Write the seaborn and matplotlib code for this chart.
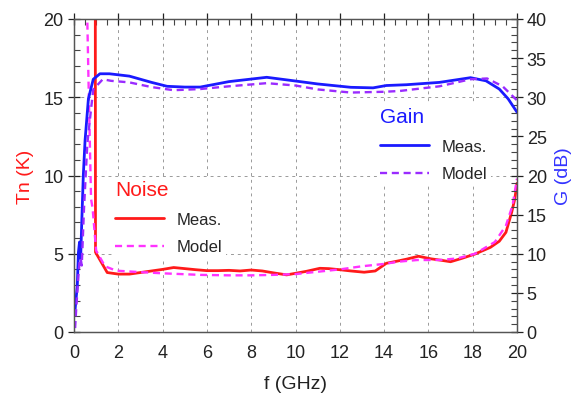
import numpy as np
import matplotlib
matplotlib.use("Agg")
import matplotlib.pyplot as plt
import seaborn as sns
from matplotlib.ticker import MultipleLocator
from matplotlib.lines import Line2D

# noise temperature, measured (K)
noise_meas_f = [0.85, 0.96, 0.97, 1.5, 2.0, 2.5, 3.0, 3.5, 4.0, 4.5, 5.0, 5.5, 6.0, 6.5, 7.0,
                7.5, 8.0, 8.5, 9.0, 9.6, 10.0, 10.5, 11.1, 11.5, 12.0, 12.5, 13.1, 13.6, 14.1,
                14.7, 15.0, 15.55, 16.1, 16.5, 17.0, 17.5, 18.1, 18.8, 19.2, 19.5, 19.76, 19.9, 20.0]
noise_meas = [30, 25, 5.1, 3.8, 3.7, 3.7, 3.8, 3.9, 4.0, 4.12, 4.05, 3.98, 3.92, 3.92, 3.94,
              3.9, 3.96, 3.9, 3.78, 3.65, 3.75, 3.88, 4.07, 4.05, 3.98, 3.9, 3.82, 3.9, 4.39,
              4.56, 4.65, 4.84, 4.68, 4.6, 4.49, 4.7, 4.98, 5.41, 5.8, 6.37, 7.65, 8.5, 9.5]

# noise temperature, model (K)
noise_model_f = [0.55, 0.6, 0.65, 0.77, 0.84, 1.0, 1.2, 1.4, 1.9, 2.7, 4.0, 5.7, 7.0, 8.0, 9.0,
                 10.0, 11.0, 12.0, 13.0, 14.0, 14.7, 15.5, 16.5, 17.3, 18.1, 19.0, 19.5, 19.8, 20.0]
noise_model = [30, 20, 16.4, 8.5, 7.9, 5.2, 4.7, 4.2, 3.92, 3.85, 3.75, 3.65, 3.62, 3.62, 3.65,
               3.7, 3.85, 4.0, 4.2, 4.35, 4.5, 4.6, 4.6, 4.7, 5.0, 5.75, 6.8, 8.1, 9.8]

# gain, measured (dB)
gain_meas_f = [0.05, 0.15, 0.2, 0.25, 0.3, 0.35, 0.42, 0.5, 0.65, 0.87, 1.17, 1.6, 2.5, 3.5, 4.2,
               5.0, 5.7, 7.0, 8.7, 10.2, 11.0, 12.5, 13.5, 14.1, 15.0, 16.5, 17.9, 18.6, 19.2,
               19.6, 20.0]
gain_meas = [2.9, 6.0, 10.2, 11.5, 9.4, 14.0, 20.0, 24.5, 29.8, 32.3, 33.0, 33.0, 32.7, 31.9, 31.4,
             31.3, 31.3, 32.0, 32.55, 32.0, 31.7, 31.27, 31.2, 31.5, 31.6, 31.9, 32.5, 32.1, 31.05,
             29.8, 28.1]

# gain, model (dB)
gain_model_f = [0.05, 0.1, 0.2, 0.25, 0.3, 0.35, 0.45, 0.6, 0.77, 0.87, 1.3, 1.67, 2.5, 3.5, 4.5,
                5.7, 7.0, 8.7, 10.0, 11.0, 12.5, 14.0, 14.7, 16.5, 17.9, 18.65, 19.35, 20.0]
gain_model = [0.5, 3.0, 7.2, 9.0, 9.4, 8.5, 15.7, 24.0, 28.5, 31.0, 32.3, 32.1, 31.9, 31.3, 30.9,
              31.05, 31.4, 31.8, 31.5, 31.0, 30.6, 30.7, 30.8, 31.4, 32.3, 32.4, 31.4, 29.6]

RED = "#ff1a1a"
MAGENTA = "#ff33ff"
BLUE = "#1a1aff"
PURPLE = "#9a2bff"

sns.set_style("white")
plt.rcParams['font.family'] = ['Liberation Sans', 'DejaVu Sans']

fig, ax = plt.subplots(figsize=(5.78, 4.02), dpi=100)
fig.subplots_adjust(left=74/578, right=517/578, top=1-20/402, bottom=1-333/402)
ax2 = ax.twinx()

sns.lineplot(x=noise_meas_f, y=noise_meas, ax=ax, color=RED, lw=2.0, sort=False, estimator=None)
sns.lineplot(x=noise_model_f, y=noise_model, ax=ax, color=MAGENTA, lw=1.7, sort=False,
             estimator=None, linestyle=(0, (3, 2)))
sns.lineplot(x=gain_meas_f, y=gain_meas, ax=ax2, color=BLUE, lw=2.0, sort=False, estimator=None)
sns.lineplot(x=gain_model_f, y=gain_model, ax=ax2, color=PURPLE, lw=1.7, sort=False,
             estimator=None, linestyle=(0, (3, 2)))

ax.set_xlim(0, 20)
ax.set_ylim(0, 20)
ax2.set_ylim(0, 40)

# grid
for xv in range(2, 20, 2):
    ax.axvline(xv, color="#9a9a9a", lw=0.7, ls=(0, (3, 4)), zorder=0)
for yv in (5, 10, 15):
    ax.axhline(yv, color="#9a9a9a", lw=0.7, ls=(0, (3, 4)), zorder=0)

ax.xaxis.set_major_locator(MultipleLocator(2))
ax.xaxis.set_minor_locator(MultipleLocator(0.5))
ax.yaxis.set_major_locator(MultipleLocator(5))
ax.yaxis.set_minor_locator(MultipleLocator(1))
ax2.yaxis.set_major_locator(MultipleLocator(5))
ax2.yaxis.set_minor_locator(MultipleLocator(1))

ax.tick_params(axis="both", which="major", direction="inout", length=8, width=0.9,
               labelsize=13, colors="#222222", top=True, right=False)
ax.tick_params(axis="both", which="minor", direction="in", length=4, width=0.8,
               top=True, right=False, colors="#444444")
ax.tick_params(axis="x", pad=5)
ax2.tick_params(axis="y", which="major", direction="inout", length=8, width=0.9,
                labelsize=13, colors="#222222", pad=3)
ax2.tick_params(axis="y", which="minor", direction="in", length=4, width=0.8, colors="#444444")

for a in (ax, ax2):
    for s in a.spines.values():
        s.set_color("#555555")
        s.set_linewidth(0.9)

ax.set_xlabel("f (GHz)", fontsize=14, color="#222222", labelpad=10)
ax.set_ylabel("Tn (K)", fontsize=14, color=RED, labelpad=7)
ax2.set_ylabel("G (dB)", fontsize=14, color="#3333ff", labelpad=6)

# legends (white background hides the grid behind them)
leg_kw = dict(loc="upper left", bbox_transform=fig.transFigure, frameon=True,
              facecolor="white", edgecolor="none", framealpha=1.0, fancybox=False,
              fontsize=12, title_fontsize=15, handlelength=2.9, handletextpad=0.8,
              alignment="left", labelspacing=0.75, borderpad=0.2, borderaxespad=0)

h_noise = [Line2D([], [], color=RED, lw=2.0),
           Line2D([], [], color=MAGENTA, lw=1.7, ls=(0, (3, 2)))]
leg1 = ax.legend(h_noise, ["Meas.", "Model"], title="Noise",
                 bbox_to_anchor=(112/578, 1-178/402), **leg_kw)
leg1.get_title().set_color(RED)
ax.add_artist(leg1)

h_gain = [Line2D([], [], color=BLUE, lw=2.0),
          Line2D([], [], color=PURPLE, lw=1.7, ls=(0, (3, 2)))]
leg2 = ax2.legend(h_gain, ["Meas.", "Model"], title="Gain",
                  bbox_to_anchor=(377/578, 1-105/402), **leg_kw)
leg2.get_title().set_color(BLUE)

fig.savefig("out.png", dpi=100)
